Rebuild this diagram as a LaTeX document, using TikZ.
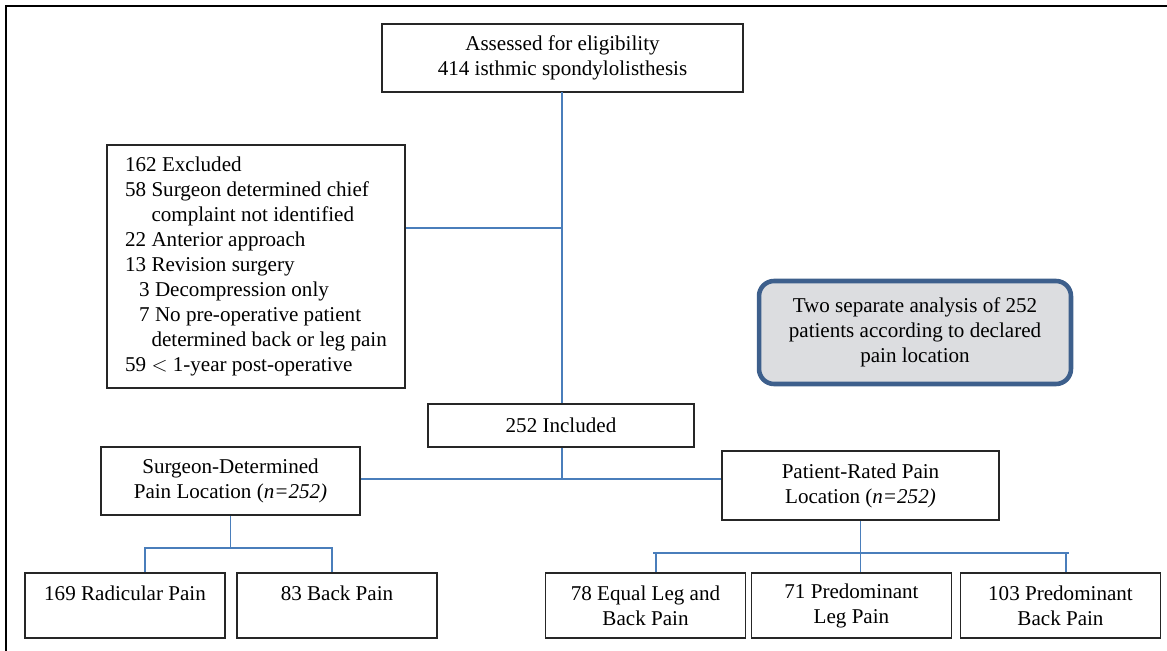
\documentclass[tikz,border=0pt]{standalone}
\usepackage{fontspec}
\setmainfont{Liberation Serif}
\usepackage{tikz}
\usetikzlibrary{positioning}
\usepackage{xcolor}
\definecolor{linkblue}{HTML}{4A7EBB}
\definecolor{notefill}{HTML}{DCDDE0}
\definecolor{noteedge}{HTML}{3D5F8C}

\tikzset{
  box/.style={draw=black!85, line width=1.1pt, align=center, inner sep=0pt,
    font=\fontsize{12}{14.2}\selectfont},
  smallbox/.style={box, minimum width=4cm, minimum height=1.3cm},
  note/.style={box, draw=noteedge, fill=notefill, line width=2.6pt, rounded corners=0.3cm,
    minimum width=6.24cm, minimum height=2.06cm},
  link/.style={draw=linkblue, line width=1.1pt}
}

\begin{document}
\begin{tikzpicture}[x=0.02cm, y=-0.02cm]
  \useasboundingbox (0,0) rectangle (1167,651);
  \draw[line width=1.4pt] (6,651) -- (6,6) -- (1167,6);

  \node [box, minimum width=7.22cm, minimum height=1.36cm] (assess) at (562.5,58)
    {Assessed for eligibility\\414 isthmic spondylolisthesis};
  \node [box, align=left, minimum width=5.96cm, minimum height=4.86cm] (excl) at (256,266.5)
    {162 Excluded\\
     58 Surgeon determined chief\\
     \phantom{58 }complaint not identified\\
     22 Anterior approach\\
     13 Revision surgery\\
     \phantom{0}\,3 Decompression only\\
     \phantom{0}\,7 No pre-operative patient\\
     \phantom{58 }determined back or leg pain\\
     59 $<$ 1-year post-operative};
  \node [note] (sep) at (915,332.5)
    {Two separate analysis of 252\\patients according to declared\\pain location};
  \node [box, minimum width=5.32cm, minimum height=0.86cm] (incl) at (561,425.5) {252 Included};
  \node [box, minimum width=5.18cm, minimum height=1.36cm] (surg) at (230.5,481)
    {Surgeon-Determined\\Pain Location (\textit{n=252)}};
  \node [box, minimum width=5.54cm, minimum height=1.38cm] (pat) at (860.5,485.5)
    {Patient-Rated Pain\\Location (\textit{n=252)}};

  \node [smallbox] (radic) at (125,605.5) {169 Radicular Pain\\\mbox{}};
  \node [smallbox] (back) at (337,605.5) {83 Back Pain\\\mbox{}};
  \node [smallbox] (equal) at (645.5,605.5) {78 Equal Leg and\\Back Pain};
  \node [smallbox] (predleg) at (851.5,605.5) {71 Predominant\\Leg Pain};
  \node [smallbox] (predback) at (1060.5,605.5) {103 Predominant\\Back Pain};

  \coordinate (j0) at (562,92);
  \coordinate (j1) at (562,228);
  \coordinate (j2) at (562,479);
  \coordinate (s1) at (145,548);
  \coordinate (s2) at (332,548);
  \coordinate (pl) at (653,553);
  \coordinate (pr) at (1069,553);

  \draw [link] (j0) -- (j0 |- incl.north);
  \draw [link] (excl.east |- j1) -- (j1);
  \draw [link] (j2 |- incl.south) -- (j2);
  \draw [link] (surg.east |- j2) -- (pat.west |- j2);
  \draw [link] (surg.south) -- (surg.south |- s1);
  \draw [link] (radic.north -| s1) -- (s1) -- (s2) -- (back.north -| s2);
  \draw [link] (pat.south) -- (predleg.north -| pat.south);
  \draw [link] (pl) -- (pr);
  \draw [link] (equal.north -| 656,0) -- (656,553);
  \draw [link] (predback.north -| 1066,0) -- (1066,553);
\end{tikzpicture}
\end{document}
